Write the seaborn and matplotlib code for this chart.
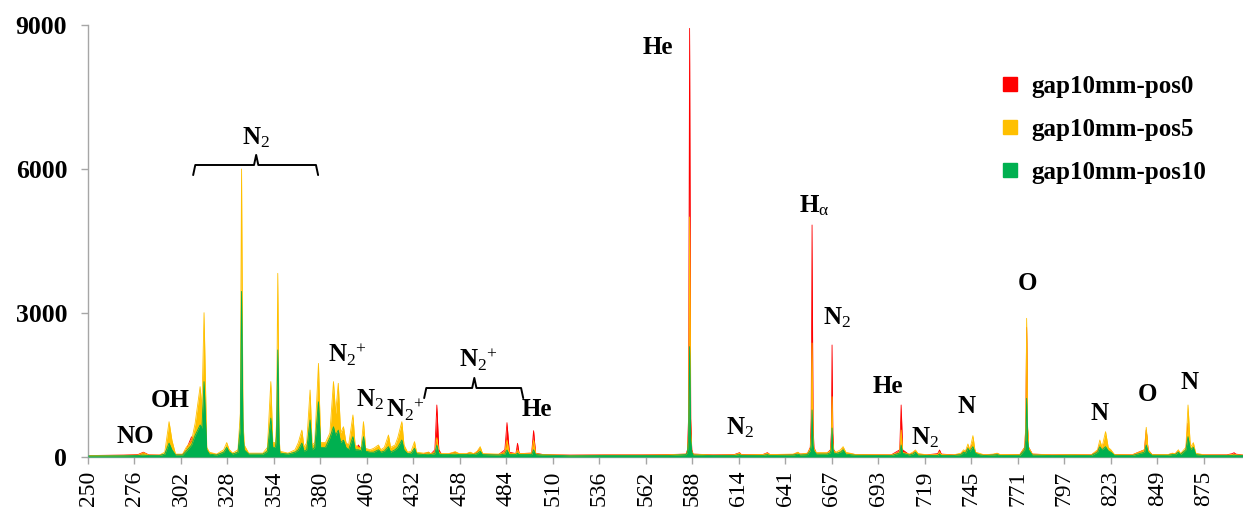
import numpy as np
import pandas as pd
import matplotlib
matplotlib.use("Agg")
import matplotlib.pyplot as plt
from matplotlib.lines import Line2D
import seaborn as sns

# ---------------- data ----------------
wavelength = [250, 270, 278, 281, 284, 290, 293, 295.4, 297, 299, 303, 305, 308, 310, 312.8, 313.8, 315, 316.5, 318, 322,
              326, 327.7, 329, 331, 334, 335.3, 336, 336.8, 337.5, 340, 348, 350.5, 352.4, 353.5, 355, 355.6, 356.3, 357, 357.5, 362,
              366, 367.8, 369.8, 371, 372.5, 374.4, 375.5, 377, 379.1, 380.3, 383, 385.5, 387.5, 388.7, 390.2, 391.5, 393.1, 394.5, 396, 398.4,
              399.6, 401.5, 403, 404.3, 405.5, 408, 410, 412.7, 414, 416, 418.3, 419.5, 422, 423.5, 425.8, 427, 429, 431, 432.9, 434,
              438, 440.7, 442, 444.3, 445.4, 446.5, 448, 452, 455.7, 458, 462, 464, 466, 468, 469.7, 471, 480, 483.5, 484.7, 486,
              489.7, 490.6, 491.5, 498.5, 499.6, 500.7, 505, 520, 540, 560, 575, 585, 585.8, 586.4, 587, 587.6, 588.2, 589, 600, 612,
              615, 616, 628, 630.6, 632, 645, 647.7, 649, 653, 654.6, 655.1, 655.6, 656.1, 656.6, 658, 664, 665.9, 666.4, 666.8, 667.2,
              667.7, 669, 671.5, 673, 674.5, 680, 700, 704.7, 705.5, 706.3, 710, 712, 713.5, 715, 720, 726, 727, 728, 735, 739,
              740.5, 741.5, 742.9, 744, 745.7, 747, 749, 752, 757, 759.3, 761, 772, 774.7, 775.3, 775.8, 776.3, 776.9, 779, 790, 800,
              812, 815.5, 816.8, 818, 820, 821.5, 823, 825, 835, 841.8, 842.8, 843.8, 846, 855, 857.4, 859, 860.8, 862, 865, 866.2,
              867.5, 869.2, 870.5, 875, 888, 891, 892, 893, 897]

pos0 = [30, 40, 50, 100, 45, 40, 60, 300, 150, 50, 50, 150, 420, 350, 600, 500, 900, 100, 80, 50,
        100, 200, 120, 60, 100, 400, 2000, 300, 100, 60, 60, 100, 600, 150, 150, 300, 1400, 200, 80, 60,
        60, 200, 250, 150, 200, 500, 150, 200, 700, 150, 150, 300, 800, 500, 700, 300, 300, 200, 150, 300,
        150, 250, 150, 300, 120, 100, 120, 150, 100, 120, 200, 120, 150, 200, 350, 150, 80, 80, 150, 80,
        60, 100, 60, 150, 1083, 150, 60, 60, 100, 60, 60, 90, 60, 100, 180, 60, 50, 150, 715, 100,
        70, 285, 70, 80, 548, 80, 50, 40, 45, 45, 50, 60, 150, 800, 8930, 800, 150, 60, 45, 50,
        90, 50, 50, 90, 50, 50, 90, 60, 70, 200, 800, 4833, 800, 200, 80, 80, 150, 500, 2333, 500,
        150, 80, 100, 180, 80, 50, 45, 150, 1083, 150, 50, 80, 120, 60, 45, 70, 146, 60, 45, 60,
        120, 100, 200, 150, 300, 100, 60, 45, 50, 70, 45, 50, 200, 600, 2700, 600, 200, 60, 45, 50,
        45, 120, 250, 150, 350, 150, 100, 50, 45, 150, 560, 150, 50, 45, 70, 60, 120, 60, 150, 700,
        150, 200, 60, 45, 45, 70, 90, 60, 40]

pos5 = [30, 35, 40, 90, 40, 40, 100, 735, 350, 60, 60, 200, 340, 700, 1465, 1000, 3006, 200, 100, 60,
        150, 300, 160, 80, 150, 900, 6000, 800, 250, 80, 80, 200, 1570, 300, 300, 700, 3826, 500, 120, 80,
        150, 300, 560, 200, 300, 1395, 250, 300, 1950, 300, 300, 500, 1570, 900, 1535, 500, 630, 300, 250, 875,
        250, 200, 200, 735, 180, 150, 180, 250, 150, 200, 458, 200, 250, 400, 735, 250, 100, 120, 320, 100,
        80, 100, 70, 100, 400, 100, 70, 70, 110, 70, 70, 100, 70, 120, 215, 70, 60, 100, 354, 80,
        70, 150, 70, 80, 350, 70, 50, 35, 40, 40, 45, 60, 120, 500, 5000, 500, 120, 60, 40, 45,
        80, 45, 50, 80, 50, 60, 100, 60, 80, 180, 450, 2375, 450, 180, 90, 90, 130, 300, 1256, 300,
        130, 100, 150, 215, 100, 50, 45, 100, 560, 100, 60, 100, 146, 70, 45, 50, 100, 50, 45, 80,
        150, 120, 271, 150, 444, 100, 80, 45, 60, 80, 50, 50, 200, 650, 2889, 650, 200, 60, 45, 50,
        45, 150, 354, 200, 528, 200, 150, 50, 45, 150, 618, 150, 50, 50, 80, 70, 150, 70, 200, 1083,
        200, 298, 80, 45, 40, 50, 60, 45, 40]

pos10 = [20, 25, 30, 40, 30, 30, 60, 290, 150, 40, 40, 120, 250, 450, 667, 600, 1570, 150, 60, 40,
         100, 200, 110, 60, 100, 600, 3450, 500, 150, 60, 60, 120, 810, 200, 200, 450, 2230, 300, 80, 60,
         100, 150, 290, 120, 150, 770, 150, 200, 1150, 200, 200, 400, 630, 450, 560, 300, 350, 200, 150, 423,
         150, 150, 130, 423, 120, 100, 100, 150, 100, 120, 215, 100, 150, 200, 354, 150, 70, 80, 180, 70,
         50, 60, 50, 70, 250, 70, 50, 50, 60, 50, 50, 60, 50, 70, 120, 50, 40, 60, 146, 50,
         50, 80, 50, 50, 150, 50, 40, 25, 30, 30, 30, 50, 100, 350, 2300, 350, 100, 40, 30, 30,
         50, 30, 30, 50, 30, 40, 60, 40, 50, 130, 250, 979, 250, 130, 60, 60, 90, 180, 604, 180,
         90, 70, 100, 150, 60, 35, 30, 80, 250, 80, 40, 60, 100, 40, 30, 30, 60, 30, 30, 50,
         100, 80, 180, 120, 215, 80, 50, 30, 40, 50, 30, 35, 150, 350, 1222, 350, 150, 40, 30, 35,
         30, 100, 215, 150, 215, 130, 100, 35, 30, 100, 250, 100, 35, 35, 50, 50, 100, 50, 150, 423,
         150, 200, 50, 30, 30, 30, 40, 30, 30]

series_names = ["gap10mm-pos0", "gap10mm-pos5", "gap10mm-pos10"]
series_colors = ["#FF0000", "#FFC000", "#00B050"]

tick_labels = ["250", "276", "302", "328", "354", "380", "406", "432", "458", "484", "510", "536", "562",
               "588", "614", "641", "667", "693", "719", "745", "771", "797", "823", "849", "875"]
y_ticks = [0, 3000, 6000, 9000]

N2 = r"N$_{\mathrm{2}}$"
N2p = r"N$_{\mathrm{2}}{}^{\mathrm{+}}$"
# annotations: (text, x, y)
peak_labels = [
    ("NO", 276.3, 417), ("OH", 296.0, 1187), (N2, 344.2, 6645),
    (N2p, 395.5, 2125), (N2, 408.0, 1187),
    (N2p, 428.0, 980), (N2p, 468.5, 2020),
    ("He", 501.7, 980), ("He", 569.5, 8540), (N2, 615.4, 604),
    (r"H$_{\mathrm{\alpha}}$", 657.0, 5228), (N2, 669.3, 2895), ("He", 697.8, 1458),
    (N2, 719.0, 396), ("N", 742.0, 1062), ("O", 776.3, 3604),
    ("N", 816.7, 896), ("O", 843.6, 1312), ("N", 867.0, 1562),
]
# brackets: (left, middle, right, level)
brackets = [(308.9, 344.2, 378.9, 6083), (438.3, 466.4, 493.8, 1437)]

# ---------------- style ----------------
sns.set_theme(style="white")
serif = ["Liberation Serif", "DejaVu Serif"]
plt.rcParams["font.family"] = serif
plt.rcParams["text.color"] = "black"
plt.rcParams["xtick.color"] = "black"
plt.rcParams["ytick.color"] = "black"
plt.rcParams["mathtext.fontset"] = "custom"
plt.rcParams["mathtext.rm"] = "Liberation Serif"
plt.rcParams["mathtext.it"] = "Liberation Serif:italic"
plt.rcParams["mathtext.bf"] = "Liberation Serif:bold"

df = pd.DataFrame({"wl": wavelength, series_names[0]: pos0,
                   series_names[1]: pos5, series_names[2]: pos10})

fig = plt.figure(figsize=(12.43, 5.13), dpi=100)
ax = fig.add_axes([0.0708, 0.1092, 0.9292, 0.8421])

for i, (name, col) in enumerate(zip(series_names, series_colors)):
    ax.fill_between(df["wl"], 0, df[name], color=col, linewidth=0, zorder=1 + i)
    sns.lineplot(data=df, x="wl", y=name, color=col, linewidth=0.6, ax=ax,
                 zorder=1.5 + i, estimator=None, sort=True)

ax.set_xlim(250, 897)
ax.set_ylim(0, 9000)
ax.set_xlabel("")
ax.set_ylabel("")

tick_pos = np.linspace(250, 875, len(tick_labels))
ax.set_xticks(tick_pos)
ax.set_xticklabels(tick_labels, rotation=90, fontsize=17, fontfamily=serif, color="black")
ax.set_yticks(y_ticks)
ax.set_yticklabels([str(v) for v in y_ticks], fontsize=18.5, fontweight="bold",
                   fontfamily=serif, color="black")

for s in ["top", "right"]:
    ax.spines[s].set_visible(False)
for s in ["left", "bottom"]:
    ax.spines[s].set_color("#A6A6A6")
    ax.spines[s].set_linewidth(1.0)
ax.tick_params(axis="x", direction="out", length=5, width=1, color="#A6A6A6", pad=5, bottom=True,
               labelcolor="black")
ax.tick_params(axis="y", direction="out", length=5, width=1, color="#A6A6A6", pad=10, left=True,
               labelcolor="black")

for txt, x, y in peak_labels:
    ax.text(x, y, txt, ha="center", va="center", fontsize=18, fontweight="bold",
            fontfamily=serif, color="black", zorder=10)

for xl, xm, xr, lvl in brackets:
    h = 210
    bx = [xl, xl + 1.2, xm - 1.2, xm, xm + 1.2, xr - 1.2, xr]
    by = [lvl - h, lvl, lvl, lvl + h, lvl, lvl, lvl - h]
    ax.plot(bx, by, color="black", linewidth=1.4, zorder=10, solid_joinstyle="round")

handles = [Line2D([0], [0], marker="s", linestyle="none", markersize=10,
                  markerfacecolor=c, markeredgecolor=c) for c in series_colors]
fig.legend(handles, series_names, loc="upper left", bbox_to_anchor=(1000 / 1243, 1 - 75 / 513),
           frameon=False, prop={"family": serif, "weight": "bold", "size": 18},
           handlelength=0.8, handletextpad=0.45, labelspacing=0.8, borderpad=0, borderaxespad=0)

fig.savefig("out.png", dpi=100)
